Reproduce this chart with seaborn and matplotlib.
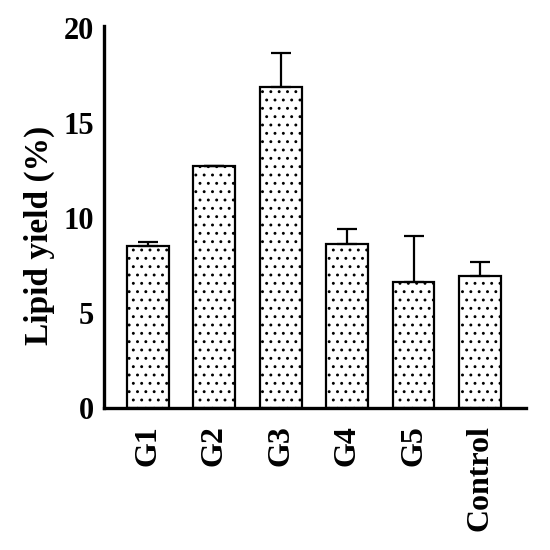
import matplotlib
matplotlib.use("Agg")
import matplotlib.pyplot as plt
import numpy as np
import pandas as pd
import seaborn as sns

# values
groups = ["G1", "G2", "G3", "G4", "G5", "Control"]
lipid_yield = [8.53, 12.71, 16.88, 8.61, 6.63, 6.96]
yield_err = [0.19, 0.0, 1.78, 0.83, 2.40, 0.71]

df = pd.DataFrame({"group": groups, "yield": lipid_yield, "err": yield_err})

sns.set_style("white")
plt.rcParams["font.family"] = ["Liberation Serif", "DejaVu Serif"]
plt.rcParams["font.weight"] = "bold"
plt.rcParams["hatch.linewidth"] = 0.9
plt.rcParams["text.color"] = "black"
plt.rcParams["axes.labelcolor"] = "black"
plt.rcParams["xtick.color"] = "black"
plt.rcParams["ytick.color"] = "black"

fig = plt.figure(figsize=(5.5, 5.5), dpi=100)
ax = fig.add_axes([0.189, 0.258, 0.767, 0.695])

sns.barplot(data=df, x="group", y="yield", color="white", edgecolor="black",
            linewidth=1.6, width=0.63, hatch="..", errorbar=None, ax=ax,
            saturation=1)

# upward-only error bars
ax.errorbar(np.arange(len(groups)), df["yield"],
            yerr=[np.zeros(len(groups)), df["err"]],
            fmt="none", ecolor="black", elinewidth=1.6, capsize=7.5,
            capthick=1.6, zorder=1)

ax.set_xlim(-0.66, 5.69)
ax.set_ylim(0, 20.1)
ax.set_yticks([0, 5, 10, 15, 20])
ax.set_xlabel("")
ax.set_ylabel("Lipid yield (%)", fontsize=24, fontweight="bold")
ax.yaxis.set_label_coords(-0.115, 0.453)
ax.tick_params(axis="y", length=0, labelsize=22, pad=7)
ax.tick_params(axis="x", length=0, labelsize=23, pad=12)
for lab in ax.get_xticklabels():
    lab.set_rotation(90)
    lab.set_fontweight("bold")
for lab in ax.get_yticklabels():
    lab.set_fontweight("bold")

for s in ["top", "right"]:
    ax.spines[s].set_visible(False)
for s in ["left", "bottom"]:
    ax.spines[s].set_linewidth(2.4)
    ax.spines[s].set_color("black")

fig.savefig("out.png", dpi=100)
